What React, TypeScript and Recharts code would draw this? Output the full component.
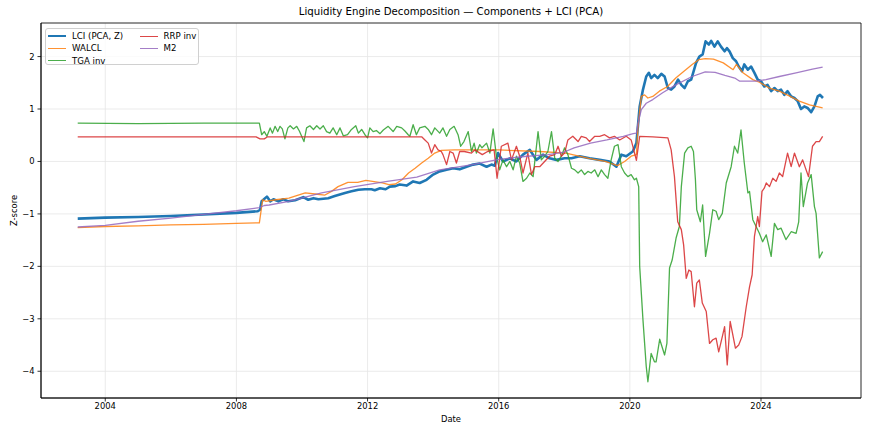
import React from 'react';
import { LineChart, Line, XAxis, YAxis, CartesianGrid, ReferenceArea } from 'recharts';

// [decimal year, z-score] pairs
const lciPoints: [number, number][] = [
  [2003.16, -1.09], [2004, -1.07], [2005, -1.06], [2006, -1.04], [2007, -1.01], [2008, -0.98], [2008.65, -0.95],
  [2008.72, -0.92], [2008.77, -0.76], [2008.93, -0.67], [2009.03, -0.76], [2009.13, -0.72], [2009.28, -0.76],
  [2009.43, -0.72], [2009.58, -0.76], [2009.79, -0.74], [2010.04, -0.68], [2010.19, -0.73], [2010.35, -0.7],
  [2010.5, -0.72], [2010.8, -0.7], [2011.0, -0.66], [2011.31, -0.6], [2011.51, -0.57], [2011.72, -0.54],
  [2011.92, -0.53], [2012.12, -0.53], [2012.22, -0.55], [2012.38, -0.51], [2012.55, -0.53], [2012.68, -0.48],
  [2012.85, -0.47], [2012.98, -0.44], [2013.19, -0.46], [2013.39, -0.38], [2013.59, -0.41], [2013.8, -0.35],
  [2014.0, -0.25], [2014.2, -0.19], [2014.41, -0.16], [2014.61, -0.13], [2014.81, -0.15], [2015.02, -0.1],
  [2015.22, -0.06], [2015.42, -0.04], [2015.63, -0.1], [2015.78, -0.06], [2015.88, -0.08], [2015.98, 0.16],
  [2016.13, 0.0], [2016.34, 0.06], [2016.54, 0.0], [2016.74, 0.13], [2016.95, 0.22], [2017.15, 0.03],
  [2017.35, 0.13], [2017.55, 0.06], [2017.76, 0.03], [2018.01, 0.06], [2018.22, 0.06], [2018.47, 0.1],
  [2018.77, 0.06], [2019.08, 0.03], [2019.38, 0.0], [2019.59, -0.1], [2019.74, 0.13], [2019.89, 0.1],
  [2020.09, 0.19], [2020.2, 0.35], [2020.3, 1.05], [2020.4, 1.37], [2020.5, 1.62], [2020.58, 1.69],
  [2020.65, 1.59], [2020.75, 1.65], [2020.85, 1.59], [2020.96, 1.67], [2021.06, 1.62], [2021.16, 1.4],
  [2021.26, 1.37], [2021.36, 1.43], [2021.47, 1.56], [2021.57, 1.46], [2021.67, 1.4], [2021.77, 1.53],
  [2021.87, 1.56], [2022.02, 1.88], [2022.12, 2.0], [2022.22, 2.04], [2022.31, 2.29], [2022.41, 2.23],
  [2022.48, 2.3], [2022.58, 2.19], [2022.68, 2.29], [2022.78, 2.19], [2022.89, 2.1], [2022.96, 2.16],
  [2023.04, 2.1], [2023.14, 1.97], [2023.24, 1.91], [2023.32, 1.81], [2023.42, 1.72], [2023.49, 1.85],
  [2023.6, 1.75], [2023.7, 1.81], [2023.8, 1.69], [2023.9, 1.56], [2024.0, 1.53], [2024.1, 1.43],
  [2024.2, 1.46], [2024.31, 1.34], [2024.41, 1.4], [2024.51, 1.34], [2024.61, 1.37], [2024.71, 1.27],
  [2024.81, 1.34], [2024.92, 1.24], [2025.02, 1.21], [2025.12, 1.15], [2025.22, 1.0], [2025.32, 1.05],
  [2025.42, 1.02], [2025.53, 0.94], [2025.63, 1.05], [2025.73, 1.24], [2025.8, 1.27], [2025.89, 1.21],
];

const walclPoints: [number, number][] = [
  [2003.16, -1.26], [2004, -1.24], [2005, -1.23], [2006, -1.21], [2007, -1.2], [2008, -1.18], [2008.7, -1.17],
  [2008.8, -0.73], [2008.9, -0.76], [2009.2, -0.73], [2009.6, -0.7], [2010.1, -0.6], [2010.4, -0.62],
  [2010.7, -0.64], [2010.9, -0.57], [2011.1, -0.48], [2011.4, -0.4], [2011.7, -0.4], [2011.95, -0.36],
  [2012.15, -0.38], [2012.45, -0.41], [2012.65, -0.44], [2012.85, -0.43], [2013.05, -0.35], [2013.25, -0.22],
  [2013.45, -0.13], [2013.65, -0.03], [2013.85, 0.06], [2014.05, 0.16], [2014.25, 0.21], [2014.65, 0.22],
  [2015.15, 0.22], [2016.0, 0.22], [2017.25, 0.19], [2018.05, 0.16], [2018.75, 0.06], [2019.25, 0.0],
  [2019.62, -0.08], [2019.84, 0.0], [2020.04, 0.1], [2020.2, 0.13], [2020.25, 0.67], [2020.35, 1.24],
  [2020.45, 1.27], [2020.55, 1.21], [2020.7, 1.24], [2020.9, 1.34], [2021.15, 1.43], [2021.4, 1.59],
  [2021.65, 1.72], [2021.9, 1.85], [2022.1, 1.94], [2022.3, 1.96], [2022.55, 1.95], [2022.85, 1.88],
  [2023.15, 1.75], [2023.25, 1.85], [2023.45, 1.69], [2023.75, 1.56], [2023.95, 1.51], [2024.25, 1.4],
  [2024.56, 1.34], [2024.86, 1.25], [2025.17, 1.15], [2025.48, 1.08], [2025.88, 1.02],
];

const tgaPoints: [number, number][] = [
  [2003.16, 0.73], [2005, 0.72], [2007, 0.73], [2008.7, 0.73], [2008.77, 0.51], [2008.85, 0.57], [2008.93, 0.48],
  [2009.03, 0.64], [2009.1, 0.54], [2009.18, 0.67], [2009.26, 0.57], [2009.33, 0.67], [2009.4, 0.62],
  [2009.48, 0.43], [2009.57, 0.64], [2009.64, 0.68], [2009.74, 0.62], [2009.84, 0.67], [2009.92, 0.58],
  [2009.99, 0.48], [2010.06, 0.38], [2010.14, 0.64], [2010.24, 0.68], [2010.35, 0.61], [2010.45, 0.68],
  [2010.55, 0.62], [2010.65, 0.68], [2010.75, 0.57], [2010.85, 0.54], [2010.95, 0.64], [2011.06, 0.51],
  [2011.16, 0.64], [2011.26, 0.49], [2011.39, 0.51], [2011.51, 0.61], [2011.64, 0.68], [2011.72, 0.54],
  [2011.82, 0.61], [2011.92, 0.51], [2012.0, 0.45], [2012.07, 0.64], [2012.17, 0.57], [2012.27, 0.59],
  [2012.38, 0.53], [2012.48, 0.6], [2012.63, 0.67], [2012.78, 0.57], [2012.89, 0.67], [2013.04, 0.64],
  [2013.14, 0.58], [2013.24, 0.51], [2013.29, 0.48], [2013.39, 0.7], [2013.49, 0.51], [2013.59, 0.64],
  [2013.75, 0.67], [2013.85, 0.61], [2013.95, 0.51], [2014.05, 0.64], [2014.2, 0.54], [2014.3, 0.64],
  [2014.41, 0.48], [2014.51, 0.61], [2014.64, 0.67], [2014.76, 0.51], [2014.84, 0.29], [2014.94, 0.38],
  [2015.07, 0.57], [2015.17, 0.19], [2015.25, 0.35], [2015.32, 0.16], [2015.42, 0.32], [2015.49, 0.26],
  [2015.63, 0.35], [2015.73, 0.16], [2015.83, 0.62], [2015.93, 0.1], [2016.03, -0.16], [2016.13, 0.03],
  [2016.24, -0.1], [2016.34, 0.0], [2016.44, -0.16], [2016.54, 0.1], [2016.64, -0.03], [2016.74, -0.38],
  [2016.85, -0.32], [2016.95, -0.22], [2017.05, -0.29], [2017.2, 0.57], [2017.3, 0.03], [2017.4, 0.1],
  [2017.5, 0.19], [2017.61, 0.57], [2017.71, 0.06], [2017.81, 0.0], [2017.91, 0.1], [2018.01, 0.26],
  [2018.11, 0.13], [2018.22, -0.13], [2018.32, -0.16], [2018.42, -0.22], [2018.52, -0.16], [2018.62, -0.25],
  [2018.72, -0.19], [2018.82, -0.22], [2018.93, -0.16], [2019.03, -0.29], [2019.13, -0.16], [2019.23, -0.25],
  [2019.33, -0.32], [2019.43, 0.03], [2019.53, 0.29], [2019.64, 0.32], [2019.74, -0.1], [2019.84, -0.22],
  [2019.94, -0.29], [2020.04, -0.25], [2020.14, -0.35], [2020.2, -0.32], [2020.27, -0.48], [2020.3, -2.0],
  [2020.4, -3.02], [2020.5, -3.91], [2020.55, -4.2], [2020.65, -3.66], [2020.75, -3.82], [2020.8, -3.82],
  [2020.91, -3.39], [2021.06, -3.69], [2021.13, -3.47], [2021.21, -2.03], [2021.29, -1.88], [2021.41, -1.46],
  [2021.51, -1.24], [2021.57, -0.48], [2021.67, 0.16], [2021.77, 0.26], [2021.87, 0.29], [2021.94, 0.19],
  [2022.0, -0.35], [2022.04, -0.92], [2022.15, -1.15], [2022.22, -0.83], [2022.31, -1.81], [2022.43, -1.37],
  [2022.53, -0.92], [2022.63, -0.95], [2022.71, -1.11], [2022.82, -0.99], [2022.94, -0.41], [2023.09, -0.1],
  [2023.19, 0.29], [2023.29, 0.16], [2023.39, 0.6], [2023.49, -0.03], [2023.6, -0.6], [2023.65, -0.57],
  [2023.75, -1.11], [2023.85, -1.24], [2023.95, -1.37], [2024.05, -1.53], [2024.16, -1.4], [2024.31, -1.81],
  [2024.41, -1.18], [2024.51, -1.3], [2024.61, -1.27], [2024.76, -1.49], [2024.92, -1.34], [2025.07, -1.37],
  [2025.15, -1.15], [2025.22, -0.22], [2025.29, -0.86], [2025.42, -0.41], [2025.53, -0.25], [2025.63, -0.86],
  [2025.68, -0.99], [2025.78, -1.84], [2025.88, -1.72],
];

const rrpPoints: [number, number][] = [
  [2003.16, 0.47], [2006, 0.47], [2008.6, 0.47], [2008.72, 0.43], [2008.85, 0.43], [2008.95, 0.47],
  [2013.65, 0.47], [2013.75, 0.41], [2013.85, 0.35], [2013.95, 0.16], [2014.05, 0.32], [2014.15, 0.22],
  [2014.25, 0.19], [2014.3, 0.13], [2014.41, -0.06], [2014.51, 0.19], [2014.61, 0.16], [2014.71, -0.03],
  [2014.81, 0.19], [2014.95, 0.19], [2015.17, 0.16], [2015.27, 0.22], [2015.5, 0.13], [2015.66, 0.19],
  [2015.86, 0.22], [2015.95, -0.32], [2016.08, 0.29], [2016.28, 0.35], [2016.39, 0.03], [2016.54, 0.29],
  [2016.64, 0.1], [2016.74, -0.22], [2016.89, 0.16], [2017.0, -0.25], [2017.1, -0.1], [2017.25, -0.1],
  [2017.4, 0.0], [2017.55, 0.1], [2017.71, 0.13], [2017.81, 0.29], [2017.91, 0.1], [2018.01, 0.16],
  [2018.11, 0.41], [2018.26, 0.48], [2018.42, 0.38], [2018.52, 0.48], [2018.67, 0.45], [2018.77, 0.38],
  [2018.93, 0.48], [2019.08, 0.48], [2019.23, 0.51], [2019.38, 0.45], [2019.53, 0.48], [2019.69, 0.41],
  [2019.89, 0.48], [2020.04, 0.41], [2020.2, 0.02], [2020.3, 0.48], [2020.7, 0.47], [2021.16, 0.45],
  [2021.26, 0.22], [2021.36, -0.29], [2021.46, -1.15], [2021.57, -1.3], [2021.64, -1.59], [2021.72, -2.23],
  [2021.8, -2.07], [2021.87, -2.1], [2021.97, -2.77], [2022.04, -2.32], [2022.12, -2.26], [2022.21, -2.7],
  [2022.33, -2.86], [2022.43, -3.47], [2022.53, -3.4], [2022.63, -3.37], [2022.71, -3.63], [2022.82, -3.34],
  [2022.89, -3.15], [2022.97, -3.88], [2023.06, -3.05], [2023.22, -3.56], [2023.32, -3.5], [2023.42, -3.34],
  [2023.55, -2.77], [2023.65, -2.39], [2023.73, -2.16], [2023.8, -1.43], [2023.9, -1.05], [2023.95, -1.24],
  [2024.03, -0.57], [2024.1, -0.51], [2024.16, -0.41], [2024.26, -0.48], [2024.36, -0.32], [2024.46, -0.38],
  [2024.56, -0.22], [2024.66, -0.29], [2024.81, 0.16], [2024.92, -0.1], [2025.02, 0.16], [2025.17, -0.1],
  [2025.27, 0.03], [2025.45, -0.29], [2025.57, 0.29], [2025.68, 0.38], [2025.78, 0.38], [2025.88, 0.48],
];

const m2Points: [number, number][] = [
  [2003.16, -1.25], [2004, -1.22], [2005, -1.14], [2006, -1.08], [2007, -1.01], [2008, -0.94], [2008.7, -0.88],
  [2008.85, -0.84], [2009.0, -0.83], [2009.6, -0.76], [2010.6, -0.6], [2011.6, -0.48], [2012.6, -0.38],
  [2013.5, -0.3], [2014.2, -0.16], [2015.2, -0.06], [2016.0, 0.04], [2016.7, 0.09], [2017.5, 0.13],
  [2018.0, 0.18], [2018.3, 0.26], [2018.8, 0.35], [2019.3, 0.41], [2019.8, 0.48], [2020.1, 0.53],
  [2020.2, 0.54], [2020.25, 0.73], [2020.35, 0.99], [2020.5, 1.11], [2020.7, 1.18], [2021.0, 1.31],
  [2021.4, 1.46], [2021.9, 1.62], [2022.3, 1.71], [2022.6, 1.7], [2022.9, 1.64], [2023.2, 1.59],
  [2023.35, 1.53], [2023.85, 1.53], [2024.15, 1.56], [2024.56, 1.62], [2025.07, 1.69], [2025.57, 1.76],
  [2025.88, 1.8],
];

const xTicks = [2004, 2008, 2012, 2016, 2020, 2024];
const yTicks = [-4, -3, -2, -1, 0, 1, 2];
const xDomain: [number, number] = [2002.04, 2027.05];
const yDomain: [number, number] = [-4.51, 2.64];

const toRows = (pts: [number, number][]) => pts.map(([t, v]) => ({ t, v }));

const series = [
  { name: 'LCI (PCA, Z)', color: '#1f77b4', width: 2.6, opacity: 1, data: toRows(lciPoints) },
  { name: 'WALCL', color: '#ff7f0e', width: 1.3, opacity: 0.85, data: toRows(walclPoints) },
  { name: 'TGA inv', color: '#2ca02c', width: 1.3, opacity: 0.85, data: toRows(tgaPoints) },
  { name: 'RRP inv', color: '#d62728', width: 1.3, opacity: 0.85, data: toRows(rrpPoints) },
  { name: 'M2', color: '#9467bd', width: 1.3, opacity: 0.85, data: toRows(m2Points) },
];

const FONT = '"DejaVu Sans", sans-serif';
const fmtY = (v: number) => (v < 0 ? `\u2212${Math.abs(v)}` : `${v}`);

const LegendBox = () => {
  // matplotlib puts entries column-major: 3 rows, 2 columns
  const cols = [series.slice(0, 3), series.slice(3)];
  return (
    <div
      style={{
        position: 'absolute', left: 45, top: 28, width: 154, height: 37,
        border: '1px solid #d0d0d0', borderRadius: 3, background: 'rgba(255,255,255,0.8)',
        display: 'flex', fontFamily: FONT, fontSize: 8.6, color: '#000', boxSizing: 'border-box',
      }}
    >
      {cols.map((col, ci) => (
        <div key={ci} style={{ paddingLeft: 2, paddingTop: 1, width: ci === 0 ? 92 : 60 }}>
          {col.map((s) => (
            <div key={s.name} style={{ display: 'flex', alignItems: 'center', height: 12.3 }}>
              <span style={{ display: 'inline-block', width: 18, height: s.width, background: s.color, opacity: s.opacity, marginRight: 6 }} />
              <span>{s.name}</span>
            </div>
          ))}
        </div>
      ))}
    </div>
  );
};

export default function App() {
  const tickStyle = { fill: '#000', fontSize: 8.4, fontFamily: FONT };
  return (
    <div style={{ position: 'absolute', left: 0, top: 0, width: 870, height: 435, background: '#fff' }}>
      <div
        style={{
          position: 'absolute', left: 41, width: 820, top: 6, textAlign: 'center',
          fontFamily: FONT, fontSize: 10.2, color: '#000',
        }}
      >
        Liquidity Engine Decomposition — Components + LCI (PCA)
      </div>
      <LineChart width={870} height={435} margin={{ top: 23, right: 9, left: 0, bottom: 0 }}>
        <CartesianGrid stroke="#e6e6e6" strokeWidth={0.8} />
        <XAxis
          dataKey="t" type="number" domain={xDomain} ticks={xTicks} allowDataOverflow
          height={37} tick={tickStyle} tickSize={3.5} tickMargin={2}
          stroke="#000" strokeWidth={0.8}
          label={({ viewBox }: any) => (
            <text x={viewBox.x + viewBox.width / 2} y={422} textAnchor="middle" fontSize={8.4} fontFamily={FONT} fill="#000">
              Date
            </text>
          )}
        />
        <YAxis
          type="number" domain={yDomain} ticks={yTicks} allowDataOverflow
          width={41} tick={tickStyle} tickSize={3.5} tickMargin={3} tickFormatter={fmtY}
          stroke="#000" strokeWidth={0.8}
          label={({ viewBox }: any) => {
            const cy = viewBox.y + viewBox.height / 2;
            return (
              <text x={14} y={cy} transform={`rotate(-90 14 ${cy})`} textAnchor="middle" dominantBaseline="central" fontSize={8.4} fontFamily={FONT} fill="#000">
                Z-score
              </text>
            );
          }}
        />
        {series.map((s) => (
          <Line
            key={s.name} data={s.data} dataKey="v" name={s.name} type="linear"
            stroke={s.color} strokeWidth={s.width} strokeOpacity={s.opacity} dot={false} activeDot={false}
            isAnimationActive={false} strokeLinejoin="round"
          />
        ))}
        {/* axes frame (matplotlib spines on all four sides) */}
        <ReferenceArea
          x1={xDomain[0]} x2={xDomain[1]} y1={yDomain[0]} y2={yDomain[1]}
          fill="none" stroke="#000" strokeWidth={0.8} ifOverflow="visible"
        />
      </LineChart>
      <LegendBox />
    </div>
  );
}
